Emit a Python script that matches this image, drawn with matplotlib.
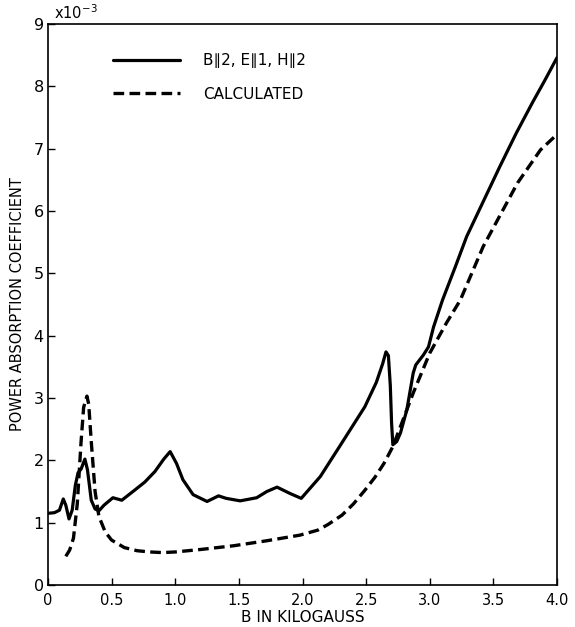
import matplotlib
matplotlib.use("Agg")
import matplotlib.pyplot as plt

# Measured curve: B (kG) vs power absorption coefficient (x1e-3)
meas_B = [0.00, 0.05, 0.09, 0.12, 0.14, 0.165, 0.19, 0.215, 0.236, 0.26, 0.29,
          0.31, 0.34, 0.37, 0.40, 0.44, 0.51, 0.58, 0.68, 0.76, 0.84, 0.91,
          0.96, 1.01, 1.06, 1.14, 1.25, 1.34, 1.40, 1.51, 1.64, 1.72, 1.80,
          1.90, 1.99, 2.14, 2.30, 2.49, 2.58, 2.63, 2.656, 2.675, 2.69, 2.70,
          2.71, 2.74, 2.77, 2.82, 2.87, 2.89, 2.95, 2.99, 3.03, 3.10, 3.20,
          3.29, 3.42, 3.55, 3.68, 3.81, 3.90, 4.00]
meas_Y = [1.15, 1.16, 1.20, 1.38, 1.28, 1.06, 1.20, 1.60, 1.80, 1.86, 2.02,
          1.85, 1.36, 1.22, 1.19, 1.28, 1.40, 1.36, 1.52, 1.65, 1.82, 2.02,
          2.14, 1.95, 1.69, 1.45, 1.34, 1.43, 1.39, 1.35, 1.40, 1.50, 1.57,
          1.47, 1.39, 1.74, 2.25, 2.86, 3.25, 3.55, 3.74, 3.68, 3.20, 2.60,
          2.25, 2.30, 2.44, 2.81, 3.40, 3.53, 3.69, 3.82, 4.14, 4.57, 5.10,
          5.59, 6.15, 6.71, 7.25, 7.75, 8.08, 8.46]

# Calculated curve
calc_B = [0.14, 0.17, 0.20, 0.23, 0.26, 0.28, 0.306, 0.32, 0.34, 0.37, 0.40,
          0.45, 0.50, 0.60, 0.70, 0.80, 0.90, 1.00, 1.20, 1.46, 1.72, 1.98,
          2.12, 2.20, 2.31, 2.40, 2.49, 2.57, 2.64, 2.71, 2.79, 2.87, 3.00,
          3.13, 3.24, 3.42, 3.69, 3.87, 3.98]
calc_Y = [0.46, 0.56, 0.75, 1.30, 2.30, 2.85, 3.03, 2.90, 2.30, 1.50, 1.10,
          0.85, 0.72, 0.60, 0.55, 0.53, 0.52, 0.53, 0.57, 0.63, 0.71, 0.80,
          0.88, 0.97, 1.12, 1.30, 1.52, 1.73, 1.95, 2.22, 2.65, 3.08, 3.72,
          4.20, 4.57, 5.43, 6.45, 6.98, 7.19]

x_ticks = [0, 0.5, 1.0, 1.5, 2.0, 2.5, 3.0, 3.5, 4.0]
x_tick_labels = ["0", "0.5", "1.0", "1.5", "2.0", "2.5", "3.0", "3.5", "4.0"]
y_ticks = [0, 1, 2, 3, 4, 5, 6, 7, 8, 9]
y_tick_labels = ["0", "1", "2", "3", "4", "5", "6", "7", "8", "9"]

plt.rcParams['font.family'] = ['DejaVu Sans']

fig = plt.figure(figsize=(5.75, 6.27), dpi=100)
ax = fig.add_axes([48/575, 42/627, 509/575, 561/627])

ax.plot(meas_B, meas_Y, color="black", lw=2.3, solid_joinstyle="round",
        solid_capstyle="round", label="B\u22252, E\u22251, H\u22252")
ax.plot(calc_B, calc_Y, color="black", lw=2.4, linestyle=(0, (3.2, 1.6)),
        label="CALCULATED")

ax.set_xlim(0, 4.0)
ax.set_ylim(0, 9)
ax.set_xticks(x_ticks)
ax.set_xticklabels(x_tick_labels, fontsize=10.5)
ax.set_yticks(y_ticks)
ax.set_yticklabels(y_tick_labels, fontsize=11.5)
ax.tick_params(axis="x", direction="in", length=5, width=1, pad=6)
ax.tick_params(axis="y", direction="in", length=5, width=1, pad=3)
for s in ax.spines.values():
    s.set_linewidth(1.2)

ax.set_xlabel("B IN KILOGAUSS", fontsize=11, labelpad=1)
ax.set_ylabel("POWER ABSORPTION COEFFICIENT", fontsize=10.5, labelpad=6)

ax.text(0.012, 1.004, "x10$^{-3}$", transform=ax.transAxes, fontsize=10.5,
        ha="left", va="bottom")

leg = ax.legend(loc="upper left", bbox_to_anchor=(0.128, 0.948), frameon=False,
                fontsize=11, handlelength=4.4, handletextpad=1.5,
                labelspacing=1.2, borderpad=0, borderaxespad=0)

fig.savefig("out.png", dpi=100)
